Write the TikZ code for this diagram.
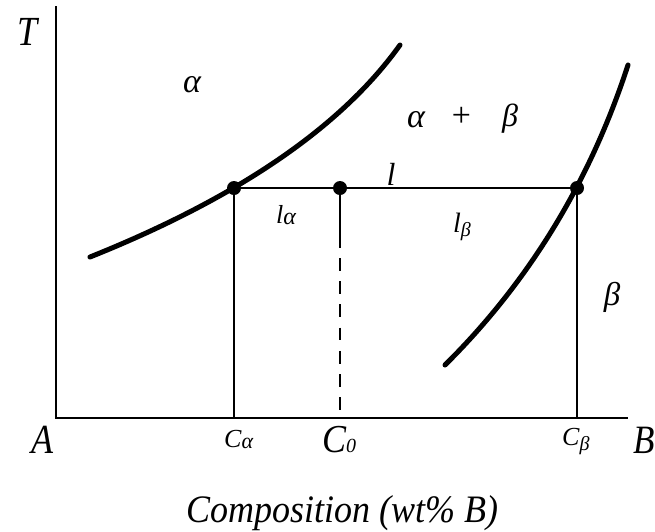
\documentclass[tikz,border=0pt]{standalone}
\usepackage{fontspec}
\setmainfont{Liberation Serif}
\begin{document}
\begin{tikzpicture}[x=1pt,y=-1pt,
  axisline/.style={line width=2pt},
  guide/.style={line width=1.8pt},
  tieline/.style={line width=2.2pt},
  boundary/.style={line width=5pt,line cap=round},
  dashguide/.style={line width=1.8pt,dash pattern=on 12.7pt off 10.5pt},
  dotmark/.style={circle,fill=black,inner sep=0pt,minimum size=14pt},
  lab/.style={inner sep=0pt,anchor=base,font=\fontsize{36}{36}\selectfont\itshape},
  labw/.style={inner sep=0pt,anchor=base west,font=\itshape}]
\useasboundingbox (0,0) rectangle (655,531);
% axes
\coordinate (ytop) at (56,6);
\coordinate (origin) at (56,418);
\coordinate (xend) at (628,418);
\draw[axisline] (ytop) -- (origin) -- (xend);
% boundary curves
\coordinate (aS) at (90,257);
\coordinate (aC1) at (238,197.7);
\coordinate (aC2) at (341.3,127);
\coordinate (aE) at (400,45);
\draw[boundary] (aS) .. controls (aC1) and (aC2) .. (aE);
\coordinate (bS) at (445,365);
\coordinate (bC1) at (529,281.7);
\coordinate (bC2) at (590,181.7);
\coordinate (bE) at (628,65);
\draw[boundary] (bS) .. controls (bC1) and (bC2) .. (bE);
% tie-line points
\node[dotmark] (pa) at (234,188) {};
\node[dotmark] (p0) at (340,188) {};
\node[dotmark] (pb) at (577,188) {};
\draw[tieline] (pa.center) -- (p0.center) -- (pb.center);
% verticals
\coordinate (fa) at (234,418);
\coordinate (fb) at (577,418);
\coordinate (m0) at (340,248);
\coordinate (d0) at (340,258);
\coordinate (f0) at (340,411);
\draw[guide] (pa.center) -- (fa);
\draw[guide] (pb.center) -- (fb);
\draw[guide] (p0.center) -- (m0);
\draw[dashguide] (d0) -- (f0);
% labels
\node[lab] (tT) at (28,45) {\scalebox{1}[1.15]{T}};
\node[lab,font=\fontsize{34}{34}\selectfont\itshape] (tal) at (192,92) {α};
\node[lab,font=\fontsize{34}{34}\selectfont\itshape] (tal2) at (416,127) {α};
\node[lab,font=\fontsize{34}{34}\selectfont\itshape] (tplus) at (461,126) {+};
\node[lab,font=\fontsize{32}{32}\selectfont\itshape] (tbe2) at (510,126) {β};
\node[lab,font=\fontsize{32}{32}\selectfont\itshape] (tl) at (391,185) {l};
\node[labw] (tla) at (276,223) {{\fontsize{26}{26}\selectfont l}\raisebox{-1pt}{\fontsize{24}{24}\selectfont α}};
\node[labw] (tlb) at (453,232) {{\fontsize{28}{28}\selectfont l}\raisebox{-4pt}{\fontsize{20}{20}\selectfont β}};
\node[lab,font=\fontsize{33}{33}\selectfont\itshape] (tbe) at (612,305) {β};
\node[lab] (tA) at (42,453) {\scalebox{1}[1.15]{A}};
\node[labw] (tCa) at (224,447) {{\fontsize{26}{26}\selectfont C}\raisebox{-1pt}{\fontsize{22}{22}\selectfont α}};
\node[labw] (tC0) at (322,452) {\scalebox{1}[1.1]{\fontsize{36}{36}\selectfont C}{\fontsize{20}{20}\selectfont 0}};
\node[labw] (tCb) at (562,445) {{\fontsize{26}{26}\selectfont C}\raisebox{-5pt}{\fontsize{20}{20}\selectfont β}};
\node[labw] (tB) at (633,453) {\scalebox{1}[1.15]{\fontsize{35}{35}\selectfont B}};
\node[labw] (tcomp) at (186,522) {\scalebox{1}[1.08]{\fontsize{36}{36}\selectfont Composition (wt\% B)}};
\end{tikzpicture}
\end{document}
